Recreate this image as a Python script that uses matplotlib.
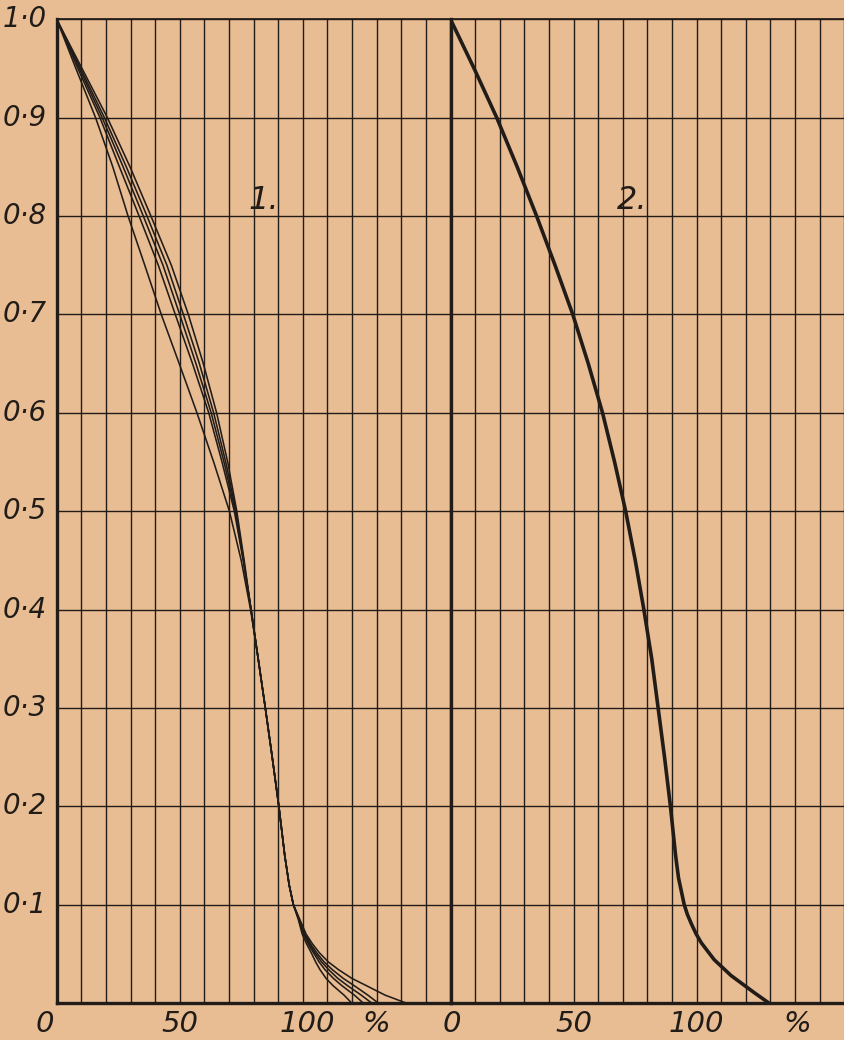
import matplotlib
matplotlib.use("Agg")
import matplotlib.pyplot as plt
from matplotlib.transforms import blended_transform_factory

# ---------------- data ----------------
# panel 1: five curves, x (%) read at common y levels
y_left = [1.0, 0.95, 0.9, 0.85, 0.8, 0.75, 0.7, 0.65, 0.6, 0.55, 0.5, 0.45, 0.4, 0.35,
          0.3, 0.25, 0.2, 0.15, 0.12, 0.1, 0.085, 0.07, 0.06, 0.051, 0.042, 0.034,
          0.025, 0.0175, 0.008, 0.0]
curve_a = [0, 7.8, 15.8, 22.8, 29.0, 35.8, 42.5, 49.8, 57.0, 63.8, 70.2, 75.0, 78.8, 81.9,
           84.8, 87.6, 90.3, 92.7, 94.5, 96.2, 98.2, 99.8, 101.6, 103.5, 105.2, 107.0,
           109.5, 112.4, 116.8, 119.9]
curve_b = [0, 8.6, 17.6, 25.5, 33.5, 41.3, 48.2, 55.2, 61.8, 67.2, 72.2, 75.8, 79.0, 81.9,
           84.8, 87.6, 90.3, 92.7, 94.5, 96.2, 98.4, 100.3, 102.3, 104.4, 106.6, 109.0,
           112.5, 116.0, 121.0, 124.6]
curve_c = [0, 9.2, 18.5, 27.0, 35.2, 43.2, 50.0, 56.6, 62.8, 68.0, 72.6, 75.9, 79.0, 81.9,
           84.8, 87.6, 90.3, 92.7, 94.5, 96.2, 98.5, 100.7, 102.8, 105.0, 107.6, 110.5,
           114.3, 118.3, 123.8, 128.0]
curve_d = [0, 9.7, 19.4, 28.3, 36.7, 44.8, 51.5, 58.0, 63.8, 68.7, 72.9, 76.0, 79.0, 81.9,
           84.8, 87.6, 90.3, 92.7, 94.5, 96.2, 98.6, 101.0, 103.2, 105.7, 108.6, 112.0,
           116.5, 121.0, 126.5, 130.7]
curve_e = [0, 10.3, 20.6, 29.8, 38.3, 46.6, 53.5, 59.6, 65.0, 69.5, 73.2, 76.2, 79.0, 81.9,
           84.8, 87.6, 90.3, 92.7, 94.5, 96.2, 98.8, 101.4, 104.0, 106.8, 110.3, 114.5,
           120.0, 126.0, 133.5, 142.0]

# panel 2: one thick curve
y_right = [1.0, 0.95, 0.9, 0.85, 0.8, 0.75, 0.7, 0.65, 0.6, 0.55, 0.5, 0.45, 0.4, 0.35,
           0.3, 0.25, 0.2, 0.15, 0.127, 0.1, 0.09, 0.08, 0.07, 0.061, 0.044, 0.028,
           0.011, 0.0]
x_right = [0, 9.6, 18.8, 27.1, 35.0, 42.5, 49.7, 56.0, 61.8, 66.7, 71.2, 75.1, 78.6, 81.8,
           84.4, 87.0, 89.4, 91.5, 92.7, 95.0, 96.3, 98.0, 99.9, 102.0, 107.2, 114.0,
           123.2, 129.4]

y_tick_values = [1.0, 0.9, 0.8, 0.7, 0.6, 0.5, 0.4, 0.3, 0.2, 0.1]
y_tick_labels = ["1·0", "0·9", "0·8", "0·7", "0·6", "0·5", "0·4", "0·3", "0·2", "0·1"]
x_label_values = [0, 50, 100]
x_label_texts = ["0", "50", "100"]
panel_names = ["1.", "2."]

# ---------------- style ----------------
paper = "#e8bd94"
ink = "#221c18"
W, H = 844, 1040
fig = plt.figure(figsize=(W / 100, H / 100), dpi=100, facecolor=paper)

x0_px, xmid_px, xend_px = 56.7, 450.5, 844.0
ytop_px, ybot_px = 19.3, 1003.0
unit_px = 2.46  # pixels per 1 %
bottom = (H - ybot_px) / H
height = (ybot_px - ytop_px) / H

axL = fig.add_axes([x0_px / W, bottom, (xmid_px - x0_px) / W, height])
axR = fig.add_axes([xmid_px / W, bottom, (xend_px - xmid_px) / W, height])

font = dict(family="DejaVu Sans", style="italic", color=ink)

for ax, xmax in ((axL, (xmid_px - x0_px) / unit_px), (axR, (xend_px - xmid_px) / unit_px)):
    ax.set_facecolor(paper)
    ax.set_xlim(0, xmax)
    ax.set_ylim(0, 1.0)
    ax.set_xticks([])
    ax.set_yticks([])
    for s in ax.spines.values():
        s.set_visible(False)
    xv = 10
    while xv < xmax + 0.5:
        ax.axvline(xv, color=ink, lw=1.0, zorder=1, clip_on=False)
        xv += 10
    for yv in y_tick_values:
        ax.axhline(yv, color=ink, lw=1.0, zorder=1, clip_on=False)
    ax.axvline(0, color=ink, lw=2.4, zorder=2, clip_on=False)
    ax.axhline(0, color=ink, lw=2.4, zorder=2, clip_on=False)
    ax.axhline(1.0, color=ink, lw=1.2, zorder=2, clip_on=False)

# curves
for cx in (curve_a, curve_b, curve_c, curve_d, curve_e):
    axL.plot(cx, y_left, color=ink, lw=1.15, zorder=3, solid_joinstyle="round")
axR.plot(x_right, y_right, color=ink, lw=2.6, zorder=3, solid_joinstyle="round",
         solid_capstyle="round")

# y tick labels
for v, t in zip(y_tick_values, y_tick_labels):
    axL.text(-3.9, v, t, ha="right", va="center", fontsize=20, **font)

# x labels
trL = blended_transform_factory(axL.transData, axL.transAxes)
trR = blended_transform_factory(axR.transData, axR.transAxes)
for v, t in zip(x_label_values, x_label_texts):
    vv = -5 if v == 0 else v
    axL.text(vv + (2 if v == 100 else 0), -0.007, t, ha="center", va="top",
             fontsize=21, transform=trL, **font)
    axR.text(v + (0 if v else 0.5), -0.007, t, ha="center", va="top",
             fontsize=21, transform=trR, **font)
axL.text(130, -0.007, "%", ha="center", va="top", fontsize=21, transform=trL, **font)
axR.text(141, -0.007, "%", ha="center", va="top", fontsize=21, transform=trR, **font)

# panel names
axL.text(84, 0.8, panel_names[0], ha="center", va="bottom", fontsize=23, **font)
axR.text(74, 0.8, panel_names[1], ha="center", va="bottom", fontsize=23, **font)

fig.savefig("out.png", dpi=100, facecolor=paper)
